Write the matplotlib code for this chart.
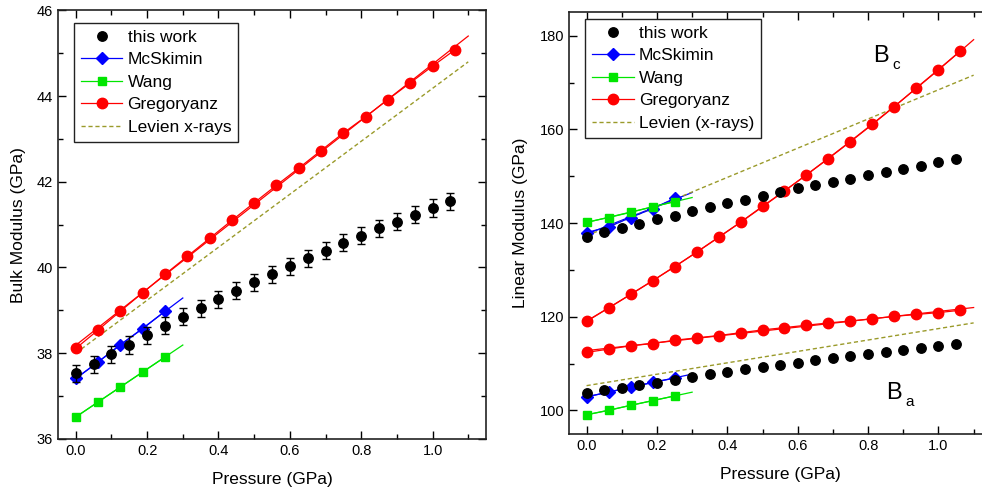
import numpy as np
import matplotlib.pyplot as plt
from matplotlib.lines import Line2D
from matplotlib.ticker import MultipleLocator

plt.rcParams['font.family'] = ['Liberation Sans', 'DejaVu Sans']

# ----------------------------------
# Data
# ----------------------------------
# this work (measured every 0.05 GPa)
p_work = [0.0, 0.05, 0.1, 0.15, 0.2, 0.25, 0.3, 0.35, 0.4, 0.45, 0.5,
          0.55, 0.6, 0.65, 0.7, 0.75, 0.8, 0.85, 0.9, 0.95, 1.0, 1.05]
bulk_work = [37.53, 37.74, 37.97, 38.19, 38.42, 38.64, 38.85, 39.05, 39.26, 39.46, 39.65,
             39.84, 40.03, 40.21, 40.39, 40.58, 40.74, 40.92, 41.07, 41.23, 41.39, 41.55]
bulk_work_err = 0.2
bc_work = [137.1, 138.1, 138.9, 139.8, 140.8, 141.6, 142.5, 143.4, 144.2, 145.0, 145.8,
           146.6, 147.4, 148.1, 148.8, 149.5, 150.3, 150.9, 151.6, 152.3, 153.0, 153.6]
ba_work = [103.7, 104.3, 104.8, 105.5, 105.9, 106.6, 107.2, 107.7, 108.2, 108.8, 109.3,
           109.8, 110.2, 110.7, 111.2, 111.6, 112.1, 112.5, 113.0, 113.4, 113.8, 114.2]

# McSkimin and Wang (0 - 0.25 GPa)
p_lit = [0.0, 0.0625, 0.125, 0.1875, 0.25]
bulk_mcskimin = [37.41, 37.79, 38.20, 38.57, 38.98]
bulk_wang = [36.51, 36.86, 37.21, 37.56, 37.91]
bc_mcskimin = [138.0, 139.2, 141.2, 143.1, 145.3]
bc_wang = [140.2, 141.2, 142.3, 143.5, 144.6]
ba_mcskimin = [102.9, 103.9, 105.0, 106.0, 106.9]
ba_wang = [99.1, 100.0, 101.1, 102.1, 103.1]
lit_fit_end = 0.3

# Gregoryanz (every 1/16 GPa)
p_greg = [0.0, 0.0625, 0.125, 0.1875, 0.25, 0.3125, 0.375, 0.4375, 0.5,
          0.5625, 0.625, 0.6875, 0.75, 0.8125, 0.875, 0.9375, 1.0, 1.0625]
bulk_greg = [38.11, 38.54, 38.98, 39.41, 39.84, 40.26, 40.68, 41.10, 41.51,
             41.92, 42.32, 42.73, 43.14, 43.52, 43.92, 44.31, 44.70, 45.08]
bc_greg = [119.0, 121.9, 124.8, 127.7, 130.7, 133.8, 137.0, 140.2, 143.6,
           146.9, 150.3, 153.8, 157.4, 161.1, 164.9, 168.9, 172.8, 176.8]
ba_greg = [112.4, 113.1, 113.8, 114.3, 115.0, 115.5, 116.0, 116.6, 117.2,
           117.7, 118.2, 118.7, 119.1, 119.6, 120.1, 120.5, 120.9, 121.4]
greg_fit_end = 1.1

# Levien x-rays (straight lines)
p_levien = [0.0, 1.1]
bulk_levien = [38.0, 44.8]
bc_levien = [137.3, 171.6]
ba_levien = [105.3, 118.7]

# ----------------------------------
# Styles
# ----------------------------------
RED = '#ff0000'
BLUE = '#0000ff'
GREEN = '#00e600'
OLIVE = '#9a9a2a'
DASH = (0, (3, 2))
MS_WORK = 6.8
MS_GREG = 7.5
MS_LIT = 5.8


def fit_line(ax, x, y, x_end, color, deg=1):
    coef = np.polyfit(x, y, deg)
    xs = np.linspace(0, x_end, 100)
    ax.plot(xs, np.polyval(coef, xs), color=color, lw=0.9, zorder=2)


def series(ax, x, y, marker, color, ms):
    ax.plot(x, y, marker=marker, color=color, mfc=color, mec=color, ms=ms,
            lw=0.9, zorder=3)


def style_axes(ax):
    ax.tick_params(which='both', direction='in', top=True, right=True,
                   labelsize=10.5)
    ax.tick_params(which='major', length=6, width=1)
    ax.tick_params(which='minor', length=3.5, width=1)
    for s in ax.spines.values():
        s.set_linewidth(1.2)
        s.set_color('#222222')
    ax.set_xlim(-0.05, 1.15)
    ax.xaxis.set_minor_locator(MultipleLocator(0.1))
    ax.set_xticks([0.0, 0.2, 0.4, 0.6, 0.8, 1.0])
    ax.set_xlabel("Pressure (GPa)", fontsize=12.5, labelpad=10)


def add_legend(ax, levien_label, anchor):
    handles = [
        Line2D([], [], ls='none', marker='o', color='black', ms=MS_WORK),
        Line2D([], [], marker='D', color=BLUE, ms=MS_LIT, lw=0.9),
        Line2D([], [], marker='s', color=GREEN, ms=MS_LIT, lw=0.9),
        Line2D([], [], marker='o', color=RED, ms=MS_GREG, lw=0.9),
        Line2D([], [], color=OLIVE, lw=1, ls=DASH),
    ]
    labels = ['this work', 'McSkimin', 'Wang', 'Gregoryanz', levien_label]
    leg = ax.legend(handles, labels, loc='upper left', bbox_to_anchor=anchor,
                    borderaxespad=0, fontsize=12.5, handlelength=2.4,
                    labelspacing=0.42, handletextpad=0.3, borderpad=0.4,
                    fancybox=False, edgecolor='#222222', framealpha=1)
    leg.get_frame().set_linewidth(1)


def sub_label(ax, x, y, main, sub):
    ax.text(x, y, main, fontsize=17)
    ax.annotate(sub, xy=(x, y), xytext=(14, -5), textcoords='offset points',
                fontsize=11)


fig = plt.figure(figsize=(9.82, 4.97), dpi=100)

# ----------------------------------
# Left: bulk modulus
# ----------------------------------
ax1 = fig.add_axes([0.059, 0.117, 0.436, 0.862])
ax1.errorbar(p_work, bulk_work, yerr=bulk_work_err, fmt='o', color='black',
             ms=MS_WORK, capsize=3, elinewidth=1, zorder=4)
series(ax1, p_lit, bulk_mcskimin, 'D', BLUE, MS_LIT)
fit_line(ax1, p_lit, bulk_mcskimin, lit_fit_end, BLUE)
series(ax1, p_lit, bulk_wang, 's', GREEN, MS_LIT)
fit_line(ax1, p_lit, bulk_wang, lit_fit_end, GREEN)
series(ax1, p_greg, bulk_greg, 'o', RED, MS_GREG)
fit_line(ax1, p_greg, bulk_greg, greg_fit_end, RED)
ax1.plot(p_levien, bulk_levien, color=OLIVE, lw=1, ls=DASH, zorder=2)

style_axes(ax1)
ax1.set_ylim(36, 46)
ax1.yaxis.set_major_locator(MultipleLocator(2))
ax1.yaxis.set_minor_locator(MultipleLocator(1))
ax1.set_ylabel("Bulk Modulus (GPa)", fontsize=12.5, labelpad=8)
add_legend(ax1, 'Levien x-rays', (0.037, 0.971))

# ----------------------------------
# Right: linear moduli
# ----------------------------------
ax2 = fig.add_axes([0.5794, 0.127, 0.43, 0.848])
ax2.plot(p_work, bc_work, 'o', color='black', ms=MS_WORK, zorder=4)
ax2.plot(p_work, ba_work, 'o', color='black', ms=MS_WORK, zorder=4)

for vals in (bc_mcskimin, ba_mcskimin):
    series(ax2, p_lit, vals, 'D', BLUE, MS_LIT)
    fit_line(ax2, p_lit, vals, lit_fit_end, BLUE)
for vals in (bc_wang, ba_wang):
    series(ax2, p_lit, vals, 's', GREEN, MS_LIT)
    fit_line(ax2, p_lit, vals, lit_fit_end, GREEN)

series(ax2, p_greg, bc_greg, 'o', RED, MS_GREG)
fit_line(ax2, p_greg, bc_greg, greg_fit_end, RED, deg=2)
series(ax2, p_greg, ba_greg, 'o', RED, MS_GREG)
fit_line(ax2, p_greg, ba_greg, greg_fit_end, RED)

ax2.plot(p_levien, bc_levien, color=OLIVE, lw=1, ls=DASH, zorder=2)
ax2.plot(p_levien, ba_levien, color=OLIVE, lw=1, ls=DASH, zorder=2)

style_axes(ax2)
ax2.set_ylim(95, 185)
ax2.yaxis.set_major_locator(MultipleLocator(20))
ax2.yaxis.set_minor_locator(MultipleLocator(10))
ax2.set_ylabel("Linear Modulus (GPa)", fontsize=12.5, labelpad=8)

sub_label(ax2, 0.815, 174.5, "B", "c")
sub_label(ax2, 0.85, 102.5, "B", "a")

add_legend(ax2, 'Levien (x-rays)', (0.038, 0.985))

plt.savefig("out.png", dpi=100)
